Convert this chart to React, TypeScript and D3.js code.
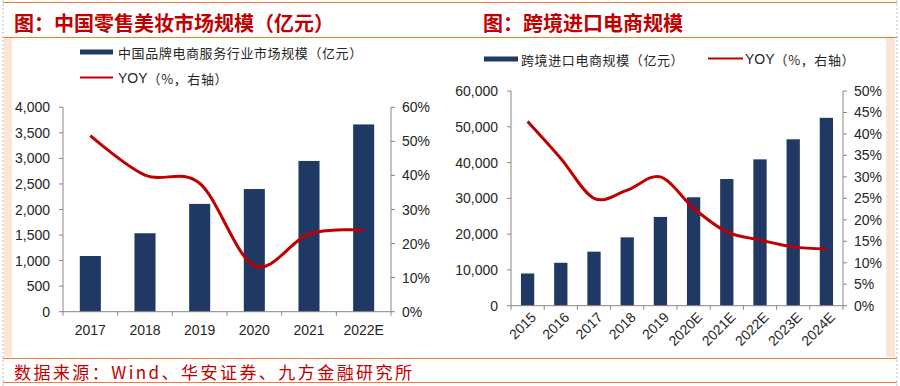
import React from "react";
import * as d3 from "d3";

// left chart: 中国品牌电商服务行业市场规模
const leftYears = ["2017", "2018", "2019", "2020", "2021", "2022E"];
const leftScale = [1090, 1535, 2110, 2400, 2950, 3665];
const leftYoy = [51.7, 40.1, 37.7, 13.5, 22.8, 24.0];

// right chart: 跨境进口电商规模
const rightYears = ["2015", "2016", "2017", "2018", "2019", "2020E", "2021E", "2022E", "2023E", "2024E"];
const rightScale = [9000, 12000, 15100, 19100, 24800, 30300, 35400, 40900, 46500, 52500];
const rightYoy = [42.9, 34.3, 25.0, 26.9, 30.0, 22.7, 17.2, 15.3, 13.7, 13.2];

const BAR = "#203864";
const LINE = "#c00000";
const ORANGE = "#ed7d31";
const PEACH = "#fce4d6";
const AXIS = "#868686";
const TXT = "#262626";
const CJK = "'Noto Sans CJK SC', sans-serif";
const LAT = "'Liberation Sans', Arial, sans-serif";

type PanelProps = {
  cats: string[];
  bars: number[];
  yoy: number[];
  x0: number;
  x1: number;
  yTop: number;
  yBot: number;
  leftMax: number;
  leftTicks: number;
  rightMax: number;
  rightTicks: number;
  pad: number;
  rotate: boolean;
};

const Panel = (p: PanelProps) => {
  const x = d3
    .scaleBand()
    .domain(p.cats)
    .range([p.x0, p.x1])
    .paddingInner(p.pad)
    .paddingOuter(p.pad / 2);
  const yL = d3.scaleLinear().domain([0, p.leftMax]).range([p.yBot, p.yTop]);
  const yR = d3.scaleLinear().domain([0, p.rightMax]).range([p.yBot, p.yTop]);
  const step = x.step();
  const cx = (c: string) => (x(c) as number) + x.bandwidth() / 2;

  const line = d3
    .line<number>()
    .x((_, i) => cx(p.cats[i]))
    .y((d) => yR(d))
    .curve(d3.curveCardinal.tension(0));

  const fmt = d3.format(",");

  return (
    <g>
      {p.bars.map((v, i) => (
        <rect
          key={p.cats[i]}
          x={x(p.cats[i])}
          y={yL(v)}
          width={x.bandwidth()}
          height={yL(0) - yL(v)}
          fill={BAR}
        />
      ))}

      {/* axes */}
      <line x1={p.x0} x2={p.x0} y1={p.yTop} y2={p.yBot} stroke={AXIS} />
      <line x1={p.x1} x2={p.x1} y1={p.yTop} y2={p.yBot} stroke={AXIS} />
      <line x1={p.x0} x2={p.x1} y1={p.yBot} y2={p.yBot} stroke={AXIS} />

      {yL.ticks(p.leftTicks).map((t) => (
        <g key={"l" + t}>
          <line x1={p.x0 - 4} x2={p.x0} y1={yL(t)} y2={yL(t)} stroke={AXIS} />
          <text
            x={p.x0 - 13}
            y={yL(t)}
            textAnchor="end"
            dominantBaseline="central"
            fontFamily={LAT}
            fontSize={14}
            fill={TXT}
          >
            {fmt(t)}
          </text>
        </g>
      ))}

      {yR.ticks(p.rightTicks).map((t) => (
        <g key={"r" + t}>
          <line x1={p.x1} x2={p.x1 + 4} y1={yR(t)} y2={yR(t)} stroke={AXIS} />
          <text
            x={p.x1 + 11}
            y={yR(t)}
            dominantBaseline="central"
            fontFamily={LAT}
            fontSize={14}
            fill={TXT}
          >
            {t + "%"}
          </text>
        </g>
      ))}

      {d3.range(p.cats.length + 1).map((i) => (
        <line
          key={"xt" + i}
          x1={p.x0 + i * step}
          x2={p.x0 + i * step}
          y1={p.yBot}
          y2={p.yBot + 4}
          stroke={AXIS}
        />
      ))}

      {p.cats.map((c) =>
        p.rotate ? (
          <text
            key={"xl" + c}
            transform={`translate(${cx(c) + 6},${p.yBot + 9}) rotate(-45)`}
            textAnchor="end"
            dominantBaseline="central"
            fontFamily={LAT}
            fontSize={14}
            fill={TXT}
          >
            {c}
          </text>
        ) : (
          <text
            key={"xl" + c}
            x={cx(c)}
            y={p.yBot + 18}
            textAnchor="middle"
            dominantBaseline="central"
            fontFamily={LAT}
            fontSize={14}
            fill={TXT}
          >
            {c}
          </text>
        )
      )}

      <path d={line(p.yoy) || ""} fill="none" stroke={LINE} strokeWidth={3} />
    </g>
  );
};

const YoyLabel = ({ x, y }: { x: number; y: number }) => (
  <text x={x} y={y} dominantBaseline="central" fontSize={13} fill={TXT}>
    <tspan fontFamily={LAT} fontSize={14}>YOY</tspan>
    <tspan fontFamily={CJK} letterSpacing={0.6}>（%，右轴）</tspan>
  </text>
);

const App = () => {
  return (
    <svg
      width={900}
      height={386}
      style={{ position: "fixed", left: 0, top: 0, background: "#fff" }}
    >
      {/* frame */}
      <rect x={4} y={38} width={8} height={319} fill={PEACH} />
      <rect x={886} y={38} width={9} height={319} fill={PEACH} />
      <line x1={3} x2={3} y1={0} y2={386} stroke="#bfbfbf" strokeDasharray="2,2" />
      <line x1={897} x2={897} y1={0} y2={386} stroke="#bfbfbf" strokeDasharray="2,2" />
      <line x1={3} x2={897} y1={2.5} y2={2.5} stroke={ORANGE} />
      <line x1={3} x2={897} y1={37.5} y2={37.5} stroke={ORANGE} />
      <line x1={3} x2={897} y1={358.5} y2={358.5} stroke={ORANGE} />
      <line x1={3} x2={897} y1={382.5} y2={382.5} stroke={ORANGE} />

      {/* titles */}
      <text x={14} y={22} dominantBaseline="central" fontFamily={CJK} fontWeight={700} fontSize={20} fill={LINE}>
        图：中国零售美妆市场规模（亿元）
      </text>
      <text x={483} y={22} dominantBaseline="central" fontFamily={CJK} fontWeight={700} fontSize={20} fill={LINE}>
        图：跨境进口电商规模
      </text>

      {/* left legend */}
      <rect x={80} y={49.5} width={33} height={5} fill={BAR} />
      <text x={118} y={52} dominantBaseline="central" fontFamily={CJK} fontSize={13} letterSpacing={0.6} fill={TXT}>
        中国品牌电商服务行业市场规模（亿元）
      </text>
      <line x1={80} x2={113} y1={77.5} y2={77.5} stroke={LINE} strokeWidth={2} />
      <YoyLabel x={118} y={78} />

      {/* right legend */}
      <rect x={484} y={56.5} width={34} height={5} fill={BAR} />
      <text x={521} y={59} dominantBaseline="central" fontFamily={CJK} fontSize={13} letterSpacing={0.6} fill={TXT}>
        跨境进口电商规模（亿元）
      </text>
      <line x1={708} x2={743} y1={58.5} y2={58.5} stroke={LINE} strokeWidth={2} />
      <YoyLabel x={745} y={59} />

      <Panel
        cats={leftYears}
        bars={leftScale}
        yoy={leftYoy}
        x0={63}
        x1={391}
        yTop={107.3}
        yBot={311.7}
        leftMax={4000}
        leftTicks={8}
        rightMax={60}
        rightTicks={6}
        pad={0.615}
        rotate={false}
      />
      <Panel
        cats={rightYears}
        bars={rightScale}
        yoy={rightYoy}
        x0={511}
        x1={843}
        yTop={91}
        yBot={305.7}
        leftMax={60000}
        leftTicks={6}
        rightMax={50}
        rightTicks={10}
        pad={0.6}
        rotate={true}
      />

      {/* source */}
      <text
        x={14}
        y={371}
        dominantBaseline="central"
        fontFamily={CJK}
        fontSize={17}
        textLength={398}
        lengthAdjust="spacing"
        fill={LINE}
      >
        数据来源：Wind、华安证券、九方金融研究所
      </text>
    </svg>
  );
};

export default App;
